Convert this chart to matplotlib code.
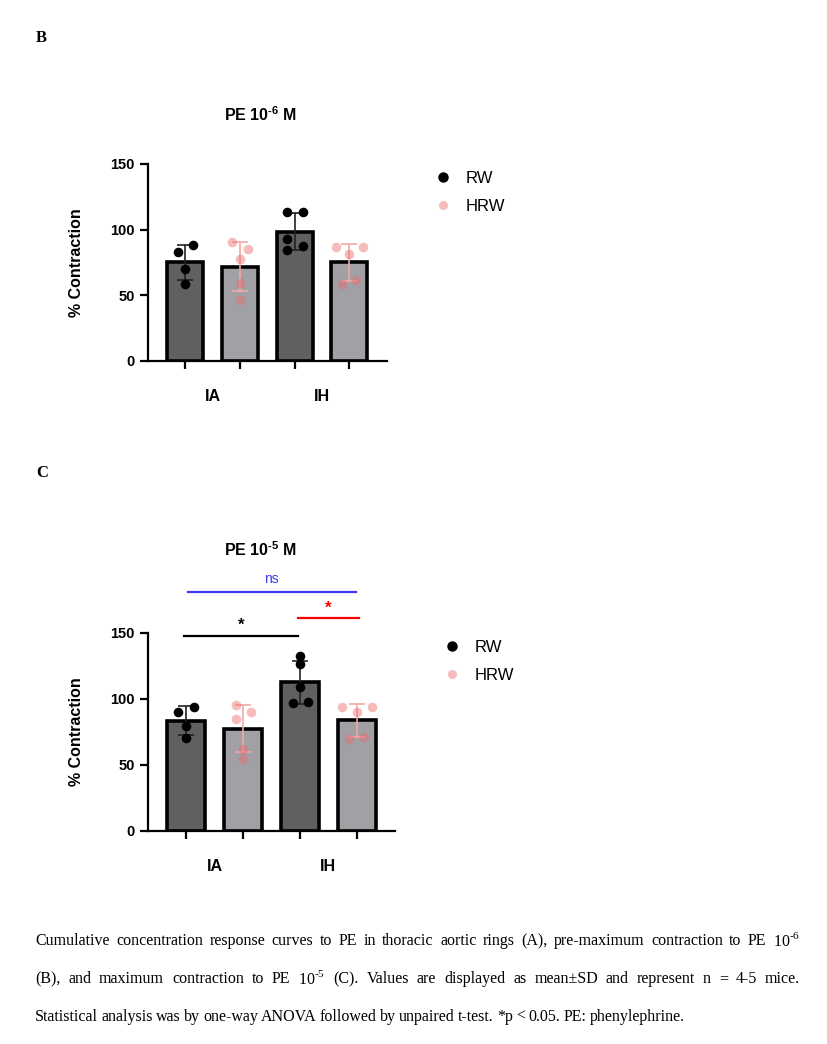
import matplotlib
matplotlib.use("Agg")
import matplotlib.pyplot as plt

# data (% contraction)
groups = ["IA", "IH"]
series = ["RW", "HRW"]

# panel B: PE 10^-6 M
b_ia_rw = [83, 88, 70, 59]
b_ia_hrw = [90.6, 85, 78, 59.4, 46.4]
b_ih_rw = [113.7, 113.7, 93, 84.8, 87.3]
b_ih_hrw = [87, 87, 81.5, 61.4, 58.6]

# panel C: PE 10^-5 M
c_ia_rw = [90.2, 94.2, 79.6, 70.2]
c_ia_hrw = [95.5, 90, 84.9, 62.3, 54.7]
c_ih_rw = [132.8, 126.2, 109.2, 97, 98]
c_ih_hrw = [94.2, 94.2, 90.2, 69.7, 71.2]

# horizontal scatter of the dots inside each bar, as drawn
b_jit = [[-0.14, 0.14, 0, 0],
         [-0.14, 0.14, 0, 0, 0],
         [-0.14, 0.15, -0.14, -0.14, 0.15],
         [-0.25, 0.26, 0, 0.13, -0.13]]
c_jit = [[-0.15, 0.14, 0, 0],
         [-0.13, 0.14, -0.13, 0, 0],
         [0, 0, 0, -0.13, 0.14],
         [-0.26, 0.26, 0, -0.13, 0.13]]

yticks = [0, 50, 100, 150]

W, H = 828, 1044
fig = plt.figure(figsize=(W / 100, H / 100), dpi=100)

SANS = "Liberation Sans"
SERIF = "Liberation Serif"
RW_FILL = "#606060"
HRW_FILL = "#a1a0a5"
PINK = "#ec6a6a"
HY = "\u2010"


def px_axes(x0, y0, x1, y1):
  return fig.add_axes([x0 / W, 1 - y1 / H, (x1 - x0) / W, (y1 - y0) / H])


def draw_panel(ax, data, jits, xlim):
  for i, vals in enumerate(data):
    n = len(vals)
    m = sum(vals) / n
    sd = (sum((v - m) ** 2 for v in vals) / (n - 1)) ** 0.5
    is_rw = i % 2 == 0
    ax.bar(i, m, width=0.66, color=RW_FILL if is_rw else HRW_FILL,
           edgecolor="black", linewidth=2.6, zorder=2)
    ax.errorbar(i, m, yerr=sd, fmt="none", ecolor="#222222" if is_rw else "#f4a8a8",
                elinewidth=1.2, capsize=6, capthick=1.2, zorder=3)
    xs = [i + j for j in jits[i]]
    if is_rw:
      ax.scatter(xs, vals, s=48, color="black", zorder=4, linewidths=0)
    else:
      ax.scatter(xs, vals, s=48, color=PINK, alpha=0.45, zorder=4, linewidths=0)
  ax.set_xlim(*xlim)
  ax.set_ylim(0, 150)
  ax.set_yticks(yticks)
  ax.set_xticks(range(len(data)))
  ax.set_xticklabels([])
  for s in ["top", "right"]:
    ax.spines[s].set_visible(False)
  for s in ["left", "bottom"]:
    ax.spines[s].set_linewidth(1.6)
  ax.tick_params(width=1.6, length=6, labelsize=10.5)
  for lab in ax.get_yticklabels():
    lab.set_fontfamily(SANS)
    lab.set_fontweight("bold")
  for k, g in enumerate(groups):
    ax.text(2 * k + 0.5, -27, g, ha="center", va="center", fontsize=11.5,
            fontweight="bold", family=SANS, clip_on=False)
  ax.set_ylabel("% Contraction", fontsize=11.5, fontweight="bold", family=SANS, labelpad=19)
  h_rw = plt.Line2D([], [], marker="o", ls="none", color="black", ms=6.5)
  h_hrw = plt.Line2D([], [], marker="o", ls="none", color=PINK, alpha=0.45, ms=6.5, mew=0)
  return (h_rw, h_hrw)


def add_legend(handles, x, y):
  fig.legend(handles, series, loc="upper left", bbox_to_anchor=(x / W, 1 - y / H),
             frameon=False, prop={"family": SANS, "size": 12}, handletextpad=0.4,
             labelspacing=0.75)


# ---- panel B ----
axB = px_axes(148, 164, 387, 361)
hB = draw_panel(axB, [b_ia_rw, b_ia_hrw, b_ih_rw, b_ih_hrw], b_jit, (-0.68, 3.69))
fig.text(260 / W, 1 - 115 / H, r"PE 10$^{\mathregular{" + HY + "6}}$ M", ha="center",
         va="center", fontsize=11.5, fontweight="bold", family=SANS)
add_legend(hB, 411, 156)

# ---- panel C ----
axC = px_axes(148, 633, 395, 831)
hC = draw_panel(axC, [c_ia_rw, c_ia_hrw, c_ih_rw, c_ih_hrw], c_jit, (-0.67, 3.67))
fig.text(260 / W, 1 - 550 / H, r"PE 10$^{\mathregular{" + HY + "5}}$ M", ha="center",
         va="center", fontsize=11.5, fontweight="bold", family=SANS)
add_legend(hC, 420, 625)

# significance brackets
sig = [(0.03, 2.98, 181, 191, "ns", "#3b3bee", 10),
       (1.97, 3.03, 161, 169, "*", "#ff0000", 12),
       (-0.04, 1.97, 148, 156, "*", "black", 12)]
for x0, x1, y, ty, txt, col, fs in sig:
  axC.plot([x0, x1], [y, y], color=col, lw=1.6, clip_on=False)
  axC.text((x0 + x1) / 2, ty, txt, color=col, ha="center", va="center",
           fontsize=fs, family=SANS, fontweight="bold" if txt == "*" else "normal",
           clip_on=False)

# panel letters
fig.text(36 / W, 1 - 38 / H, "B", fontsize=12, fontweight="bold", family=SERIF, va="center")
fig.text(36 / W, 1 - 473 / H, "C", fontsize=12, fontweight="bold", family=SERIF, va="center")

# caption, justified over the text block
lines = [
  ("Cumulative concentration response curves to PE in thoracic aortic rings (A), "
   "pre-maximum contraction to PE 10$^{\\mathregular{" + HY + "6}}$", 941, True),
  ("(B), and maximum contraction to PE 10$^{\\mathregular{" + HY + "5}}$ (C). Values are "
   "displayed as mean±SD and represent n = 4-5 mice.", 979, True),
  ("Statistical analysis was by one-way ANOVA followed by unpaired t-test. *p < 0.05. "
   "PE: phenylephrine.", 1017, False),
]
left, right = 35, 800
renderer = fig.canvas.get_renderer()
for txt, ypx, justify in lines:
  words = txt.split(" ")
  arts = [fig.text(0, 1 - ypx / H, w, fontsize=11.5, family=SERIF, va="center")
          for w in words]
  widths = [a.get_window_extent(renderer).width for a in arts]
  space = 3.2
  if justify:
    space = (right - left - sum(widths)) / (len(words) - 1)
  x = left
  for a, w in zip(arts, widths):
    a.set_x(x / W)
    x += w + space

fig.savefig("out.png", dpi=100)
